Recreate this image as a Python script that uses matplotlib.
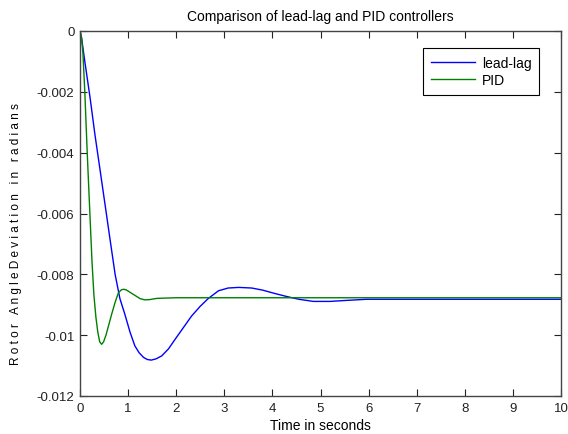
import matplotlib
matplotlib.use("Agg")
import matplotlib.pyplot as plt

plt.rcParams['font.family'] = ['Liberation Sans', 'DejaVu Sans']

title = "Comparison of lead-lag and PID controllers"
xlabel = "Time in seconds"
ylabel = "R o t o r   A n g l e D e v i a t i o n   i n   r a d i a n s"

# lead-lag response
t_leadlag = [0, 0.03, 0.10, 0.21, 0.31, 0.42, 0.52, 0.62, 0.73, 0.83, 0.93, 1.04,
             1.14, 1.23, 1.32, 1.40, 1.48, 1.58, 1.70, 1.84, 1.98, 2.15, 2.32, 2.50,
             2.67, 2.88, 3.08, 3.30, 3.57, 3.80, 4.05, 4.30, 4.55, 4.85, 5.20, 5.51,
             5.96, 7.0, 8.0, 9.0, 10.0]
v_leadlag = [0, -0.0002, -0.0010, -0.0022, -0.0034, -0.0046, -0.0057, -0.0068,
             -0.0080, -0.0088, -0.0093, -0.0099, -0.01035, -0.01058, -0.01073, -0.01080,
             -0.01082, -0.01078, -0.01068, -0.01045, -0.01013, -0.00975, -0.00937,
             -0.00905, -0.00879, -0.00854, -0.00845, -0.00843, -0.00845, -0.00852,
             -0.00863, -0.00873, -0.00882, -0.00889, -0.00889, -0.00886, -0.00882,
             -0.00882, -0.00882, -0.00882, -0.00882]

# PID response
t_pid = [0, 0.03, 0.06, 0.10, 0.15, 0.20, 0.25, 0.29, 0.33, 0.37, 0.41, 0.45, 0.49,
         0.54, 0.60, 0.66, 0.73, 0.80, 0.86, 0.91, 0.97, 1.05, 1.15, 1.25, 1.35, 1.45,
         1.60, 2.0, 10.0]
v_pid = [0, -0.0002, -0.0007, -0.0020, -0.0040, -0.0058, -0.0076, -0.0087, -0.0094,
         -0.0099, -0.01022, -0.0103, -0.01022, -0.0100, -0.00965, -0.0093, -0.00892,
         -0.0086, -0.00851, -0.00849, -0.00852, -0.0086, -0.0087, -0.0088, -0.00884,
         -0.00883, -0.00879, -0.00877, -0.00877]

xticks = [0, 1, 2, 3, 4, 5, 6, 7, 8, 9, 10]
yticks = [-0.012, -0.01, -0.008, -0.006, -0.004, -0.002, 0]
ytick_labels = ['-0.012', '-0.01', '-0.008', '-0.006', '-0.004', '-0.002', '0']

fig = plt.figure(figsize=(5.68, 4.35), dpi=100)
ax = fig.add_axes([80/568, 1 - 397/435, 481/568, 365/435])

ax.plot(t_leadlag, v_leadlag, color='#0000ff', lw=1.0, label='lead-lag')
ax.plot(t_pid, v_pid, color='#008000', lw=1.0, label='PID')

ax.set_xlim(0, 10)
ax.set_ylim(-0.012, 0)
ax.set_xticks(xticks)
ax.set_xticklabels([str(x) for x in xticks])
ax.set_yticks(yticks)
ax.set_yticklabels(ytick_labels)
ax.tick_params(direction='in', length=5, width=0.8, top=True, right=True,
               labelsize=9.5, colors='#222222', pad=4)
for s in ax.spines.values():
    s.set_color('#444444')
    s.set_linewidth(1.0)

ax.set_title(title, fontsize=10, pad=8)
ax.set_xlabel(xlabel, fontsize=10, labelpad=3)
fig.text(16/568, 1 - 234/435, ylabel, rotation=90, fontsize=8.5,
         ha='center', va='center')

leg = ax.legend(loc='upper right', bbox_to_anchor=((539 - 80)/481, (397 - 49)/365),
                borderaxespad=0, fontsize=10, fancybox=False, edgecolor='black',
                framealpha=1, handlelength=3.2, handletextpad=0.45, labelspacing=0.25,
                borderpad=0.55)
leg.get_frame().set_linewidth(0.8)

fig.savefig('out.png', dpi=100)
